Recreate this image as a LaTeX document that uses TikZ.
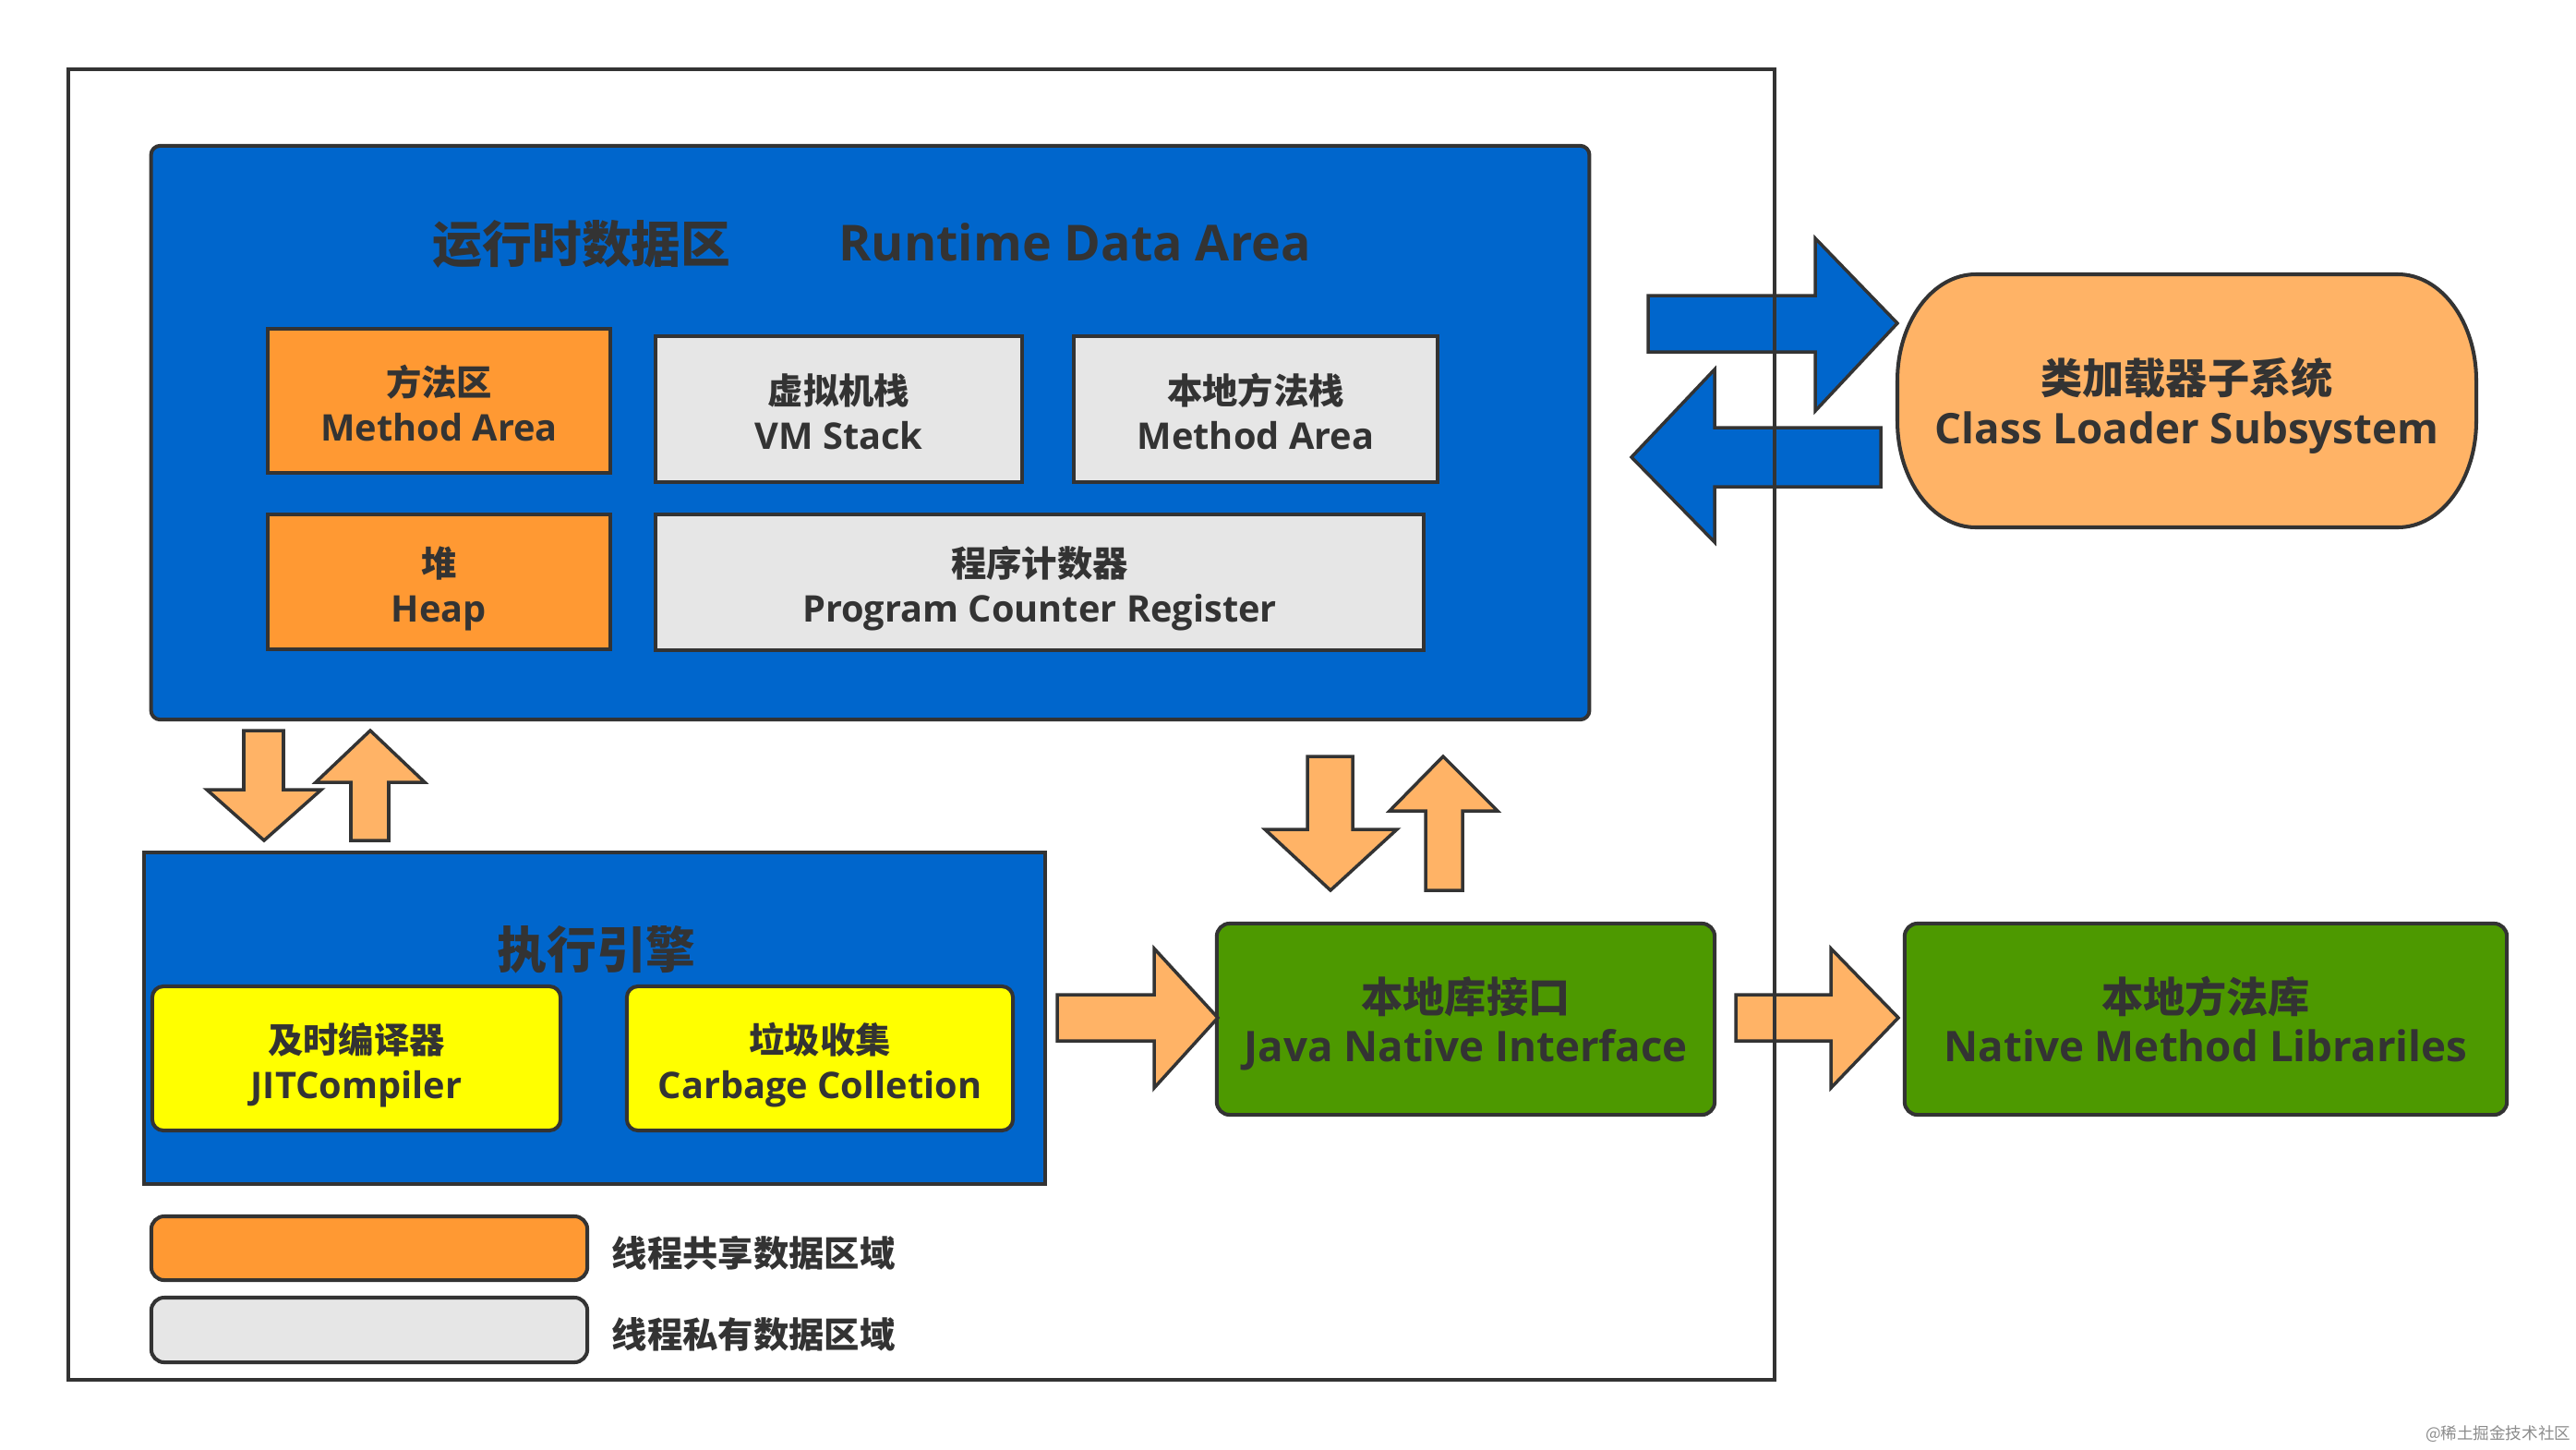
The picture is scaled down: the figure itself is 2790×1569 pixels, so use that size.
\documentclass[tikz,border=0pt]{standalone}
\usepackage{fontspec}
\setmainfont{Open Sans}
\newfontfamily\cjk{Noto Sans CJK SC}
\definecolor{blueA}{HTML}{0066CC}
\definecolor{orangeA}{HTML}{FF9933}
\definecolor{orangeB}{HTML}{FFB366}
\definecolor{grayA}{HTML}{E6E6E6}
\definecolor{yellowA}{HTML}{FFFF00}
\definecolor{greenA}{HTML}{4D9900}
\definecolor{bdc}{HTML}{333333}
\definecolor{txc}{HTML}{333333}
\newcommand\fsS{\fontsize{11.3}{13.9}\selectfont}
\newcommand\cS{\cjk\fontsize{10.9}{13.9}\selectfont}
\newcommand\fsM{\fontsize{13.0}{15.1}\selectfont}
\newcommand\cM{\cjk\fontsize{12.85}{15.1}\selectfont}
\newcommand\fsL{\fontsize{15.3}{18}\selectfont}
\tikzset{
  bd/.style={draw=bdc, line width=1.15pt},
  box/.style={bd, inner sep=0pt, align=center, text=txc, font=\bfseries\fsS, text height=24.5pt, text depth=0pt},
  boxM/.style={box, font=\bfseries\fsM, text height=26.2pt, text depth=0pt},
  barrow/.style={draw=bdc, line width=1pt, fill=blueA, line join=miter},
  oarrow/.style={draw=bdc, line width=1pt, fill=orangeB, line join=miter},
  ttl/.style={anchor=base, inner sep=0pt, text=txc, font=\bfseries\fsL},
  lgt/.style={anchor=base west, inner sep=0pt, text=txc, font=\bfseries\cS},
}
\begin{document}
\begin{tikzpicture}[x=0.01cm, y=-0.01cm]
\useasboundingbox (0,0) rectangle (2790,1569);
\fill[white] (0,0) rectangle (2790,1569);

% Runtime data area
\node[bd, fill=blueA, rounded corners=0.1cm, minimum width=15.57cm, minimum height=6.21cm, inner sep=0pt] (rda) at (942.5,468.5) {};
\node[ttl] (rdacn) at (630,284) {\cjk 运行时数据区};
\node[ttl] (rdaen) at (1164,282) {Runtime Data Area};
\node[box, fill=orangeA, minimum width=3.71cm, minimum height=1.56cm] (ma) at (475.5,434) {{\cS 方法区}\\Method Area};
\node[box, fill=grayA, minimum width=3.97cm, minimum height=1.58cm] (vms) at (908.5,443) {{\cS 虚拟机栈}\\VM Stack};
\node[box, fill=grayA, minimum width=3.94cm, minimum height=1.58cm] (nms) at (1360,443) {{\cS 本地方法栈}\\Method Area};
\node[box, fill=orangeA, minimum width=3.71cm, minimum height=1.46cm] (heap) at (475.5,630) {{\cS 堆}\\Heap};
\node[box, fill=grayA, minimum width=8.32cm, minimum height=1.47cm] (pcr) at (1126,630.5) {{\cS 程序计数器}\\Program Counter Register};

% Class loader
\draw[bd, fill=orangeB] (2140,297) -- (2597,297)
  arc[start angle=-90, end angle=0, x radius=85, y radius=115] -- (2682,456)
  arc[start angle=0, end angle=90, x radius=85, y radius=115] -- (2140,571)
  arc[start angle=90, end angle=180, x radius=85, y radius=115] -- (2055,412)
  arc[start angle=180, end angle=270, x radius=85, y radius=115] -- cycle;
\node[boxM, draw=none, minimum width=6.27cm, minimum height=2.74cm] (cl) at (2368.5,434) {{\cM 类加载器子系统}\\Class Loader Subsystem};

% Execution engine
\node[bd, fill=blueA, minimum width=9.76cm, minimum height=3.59cm, inner sep=0pt] (ee) at (644,1102.5) {};
\node[ttl] (eecn) at (646,1048) {\cjk 执行引擎};
\node[box, fill=yellowA, rounded corners=0.12cm, minimum width=4.42cm, minimum height=1.56cm] (jit) at (386,1146) {{\cS 及时编译器}\\JITCompiler};
\node[box, fill=yellowA, rounded corners=0.12cm, minimum width=4.18cm, minimum height=1.56cm] (gc) at (888,1146) {{\cS 垃圾收集}\\Carbage Colletion};

% Native
\node[boxM, fill=greenA, rounded corners=0.14cm, minimum width=5.39cm, minimum height=2.07cm] (jni) at (1587.5,1103.5) {{\cM 本地库接口}\\Java Native Interface};
\node[boxM, fill=greenA, rounded corners=0.14cm, minimum width=6.52cm, minimum height=2.07cm] (nml) at (2389,1103.5) {{\cM 本地方法库}\\Native Method Librariles};

% Legend
\node[bd, fill=orangeA, rounded corners=0.14cm, minimum width=4.72cm, minimum height=0.69cm, inner sep=0pt] (lg1) at (400,1351.5) {};
\node[bd, fill=grayA, rounded corners=0.14cm, minimum width=4.72cm, minimum height=0.70cm, inner sep=0pt] (lg2) at (400,1440) {};
\node[lgt] (lgt1) at (662,1371) {线程共享数据区域};
\node[lgt] (lgt2) at (662,1459) {线程私有数据区域};

% Blue arrows
\draw[barrow] (1785,320) -- (1966,320) -- (1966,258) -- (2055,350) -- (1966,445) -- (1966,381) -- (1785,381) -- cycle;
\draw[barrow] (2037,463) -- (1857,463) -- (1857,400) -- (1767,495) -- (1857,587) -- (1857,527) -- (2037,527) -- cycle;

% Orange arrows RDA <-> EE
\draw[oarrow] (264,791) -- (307,791) -- (307,855) -- (348,855) -- (286,910) -- (224,855) -- (264,855) -- cycle;
\draw[oarrow] (401,791) -- (460,847) -- (421,847) -- (421,910) -- (380,910) -- (380,847) -- (342,847) -- cycle;

% Orange arrows RDA <-> JNI
\draw[oarrow] (1416,819) -- (1465,819) -- (1465,898) -- (1513,898) -- (1441,964) -- (1370,898) -- (1416,898) -- cycle;
\draw[oarrow] (1563,819) -- (1622,878) -- (1584,878) -- (1584,964) -- (1544,964) -- (1544,878) -- (1505,878) -- cycle;

% Orange right arrows
\draw[oarrow] (1145,1077) -- (1250,1077) -- (1250,1027) -- (1319,1102) -- (1250,1178) -- (1250,1127) -- (1145,1127) -- cycle;
\draw[oarrow] (1880,1077) -- (1983,1077) -- (1983,1027) -- (2056,1102) -- (1983,1178) -- (1983,1127) -- (1880,1127) -- cycle;

% Outer frame
\draw[draw=bdc, line width=1.3pt] (74,75) rectangle (1922,1494);

% Watermark
\node[anchor=base east, inner sep=0pt, text=black!45, font=\cjk\fontsize{5}{6}\selectfont] (wm) at (2785,1558) {@稀土掘金技术社区};
\end{tikzpicture}
\end{document}
